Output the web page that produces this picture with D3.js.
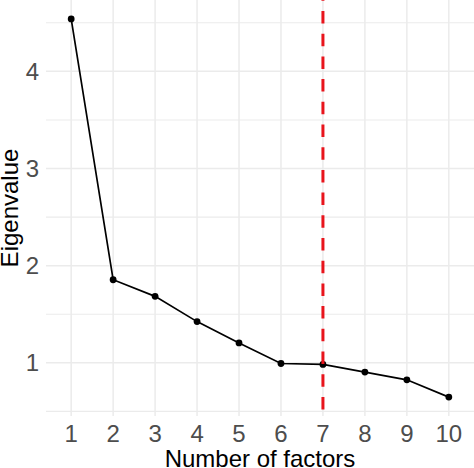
<!DOCTYPE html>
<html>
<head>
<meta charset="utf-8">
<script src="https://cdn.jsdelivr.net/npm/d3@7"></script>
<style>
  body { margin: 0; background: #fff; }
  svg { display: block; font-family: "Liberation Sans", Arial, sans-serif; }
</style>
</head>
<body>
<svg id="chart" width="474" height="468"></svg>
<script>
// scree plot data
const factors = [1, 2, 3, 4, 5, 6, 7, 8, 9, 10];
const eigenvalues = [4.54, 1.855, 1.684, 1.424, 1.205, 0.993, 0.983, 0.904, 0.825, 0.647];
const yTicks = [1, 2, 3, 4];
const yMinor = [0.5, 1.5, 2.5, 3.5, 4.5];
const cutoff = 7;

const panel = { left: 46, right: 474, top: 0, bottom: 416 };
const fontSize = 24;

const svg = d3.select("#chart");

// discrete-style x scale, 0.6 padding each side like ggplot
const x = d3.scaleLinear()
    .domain([d3.min(factors) - 0.6, d3.max(factors) + 0.6])
    .range([panel.left, panel.right]);

// continuous y scale with 5% expansion
const yMin = d3.min(eigenvalues), yMax = d3.max(eigenvalues);
const pad = (yMax - yMin) * 0.05;
const y = d3.scaleLinear()
    .domain([yMin - pad, yMax + pad])
    .range([panel.bottom, panel.top]);

const grid = svg.append("g");

// minor horizontal gridlines
grid.selectAll(".minor")
    .data(yMinor)
    .enter().append("line")
    .attr("x1", panel.left).attr("x2", panel.right)
    .attr("y1", d => y(d)).attr("y2", d => y(d))
    .attr("stroke", "#EBEBEB").attr("stroke-width", 1.1);

// major horizontal gridlines
grid.selectAll(".majorY")
    .data(yTicks)
    .enter().append("line")
    .attr("x1", panel.left).attr("x2", panel.right)
    .attr("y1", d => y(d)).attr("y2", d => y(d))
    .attr("stroke", "#EBEBEB").attr("stroke-width", 1.5);

// major vertical gridlines
grid.selectAll(".majorX")
    .data(factors)
    .enter().append("line")
    .attr("x1", d => x(d)).attr("x2", d => x(d))
    .attr("y1", panel.top).attr("y2", panel.bottom)
    .attr("stroke", "#EBEBEB").attr("stroke-width", 1.5);

// line + points
const pts = factors.map((f, i) => [f, eigenvalues[i]]);
svg.append("path")
    .datum(pts)
    .attr("fill", "none")
    .attr("stroke", "#000")
    .attr("stroke-width", 1.7)
    .attr("d", d3.line().x(d => x(d[0])).y(d => y(d[1])));

svg.selectAll(".pt")
    .data(pts)
    .enter().append("circle")
    .attr("cx", d => x(d[0]))
    .attr("cy", d => y(d[1]))
    .attr("r", 3.4)
    .attr("fill", "#000");

// red dashed cutoff line
svg.append("line")
    .attr("x1", x(cutoff)).attr("x2", x(cutoff))
    .attr("y1", panel.top).attr("y2", panel.bottom)
    .attr("stroke", "#E8141C")
    .attr("stroke-width", 3)
    .attr("stroke-dasharray", "12.5,10.2")
    .attr("stroke-dashoffset", 11.7);

// tick labels
svg.selectAll(".ytick")
    .data(yTicks)
    .enter().append("text")
    .attr("x", 39)
    .attr("y", d => y(d))
    .attr("dy", "0.36em")
    .attr("text-anchor", "end")
    .attr("font-size", fontSize)
    .attr("fill", "#4D4D4D")
    .text(d => d);

svg.selectAll(".xtick")
    .data(factors)
    .enter().append("text")
    .attr("x", d => x(d))
    .attr("y", 441.5)
    .attr("text-anchor", "middle")
    .attr("font-size", fontSize)
    .attr("fill", "#4D4D4D")
    .text(d => d);

// axis titles
svg.append("text")
    .attr("x", (panel.left + panel.right) / 2)
    .attr("y", 467)
    .attr("text-anchor", "middle")
    .attr("font-size", fontSize)
    .attr("fill", "#000")
    .text("Number of factors");

svg.append("text")
    .attr("transform", `translate(17.5,${(panel.top + panel.bottom) / 2}) rotate(-90)`)
    .attr("text-anchor", "middle")
    .attr("font-size", fontSize)
    .attr("fill", "#000")
    .text("Eigenvalue");
</script>
</body>
</html>
